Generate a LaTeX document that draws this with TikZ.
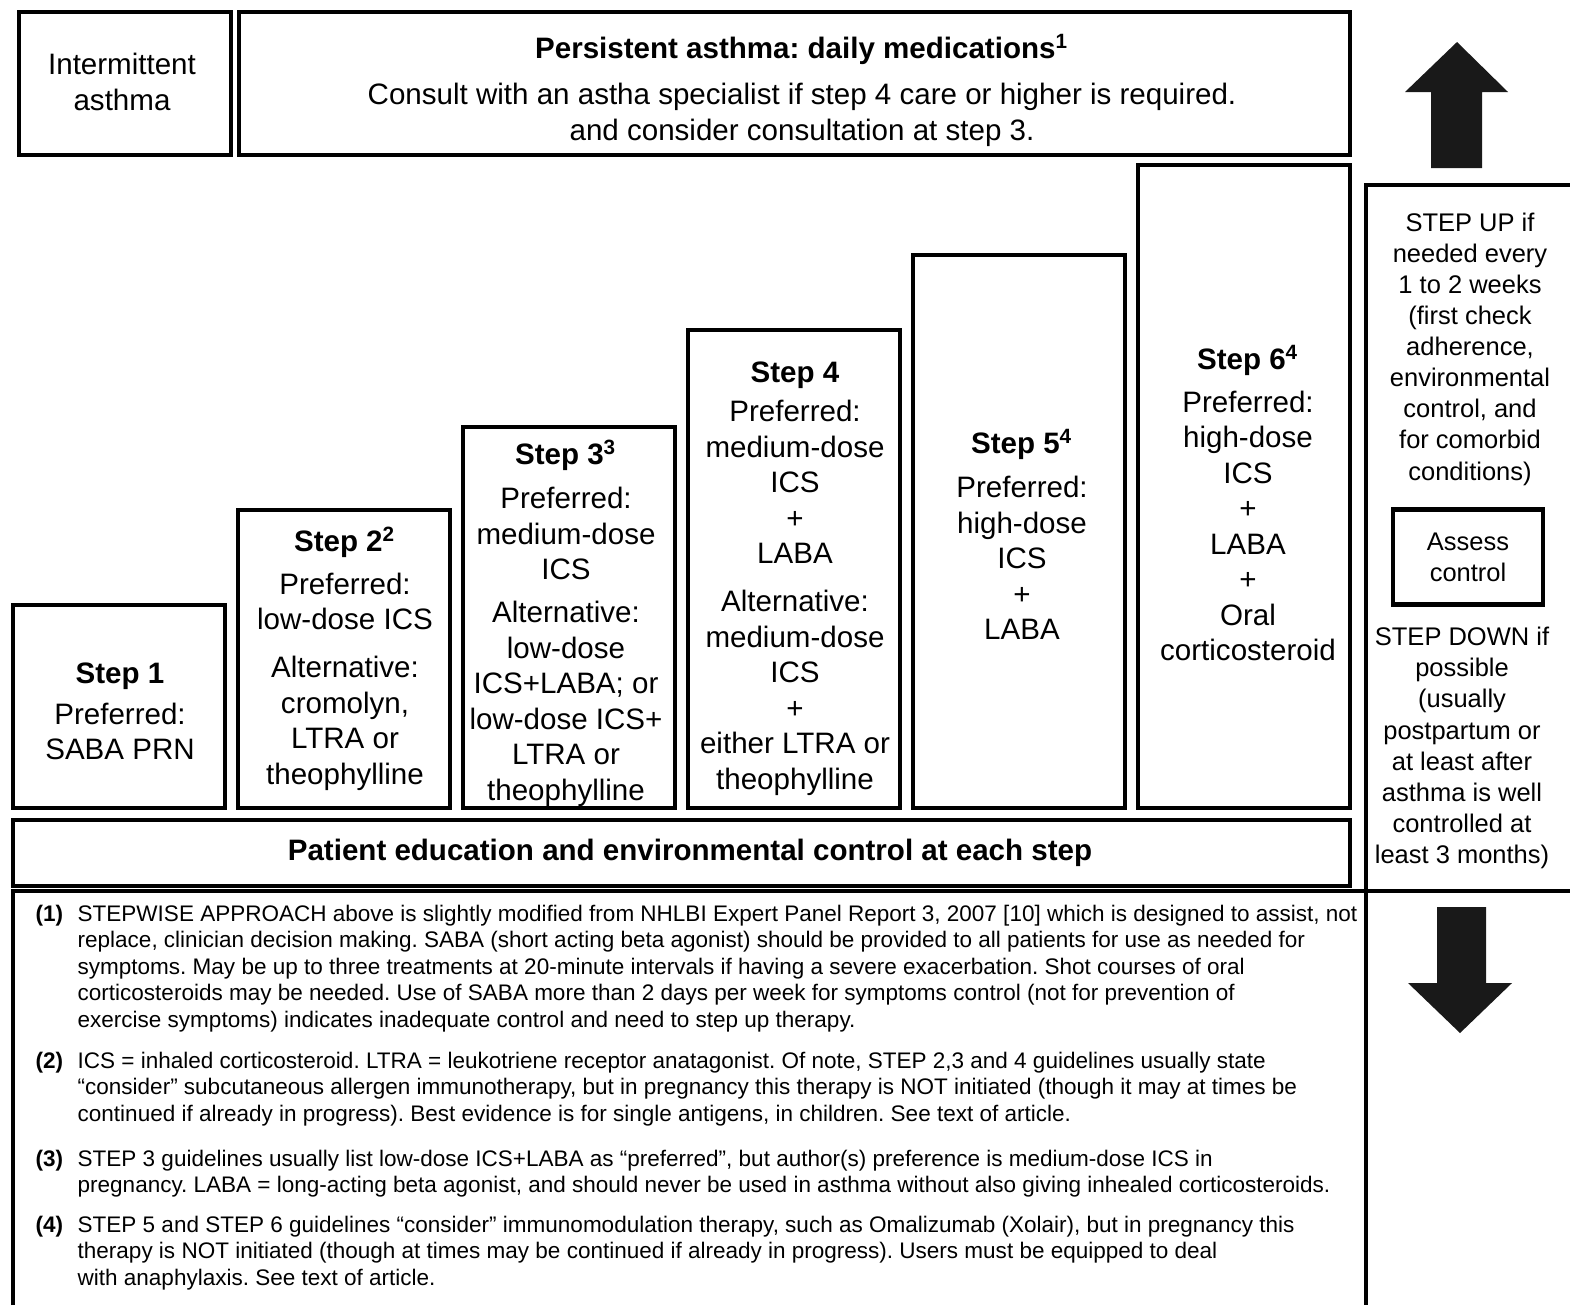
\documentclass[tikz,border=0pt]{standalone}
\usepackage{fontspec}
\setmainfont{Liberation Sans}
\frenchspacing
\usetikzlibrary{positioning}
\tikzset{
  box/.style={draw,very thick},
  steptxt/.style={anchor=north,align=center,inner sep=0pt,font=\fontsize{8.4}{10.1}\selectfont},
  sidetxt/.style={align=center,inner sep=0pt,font=\fontsize{7.25}{8.85}\selectfont},
  notetxt/.style={anchor=north west,align=left,inner sep=0pt,font=\fontsize{6.4}{7.55}\selectfont},
  bigarrow/.style={fill=black!90,draw=none}
}

\begin{document}
\begin{tikzpicture}[x=0.01cm,y=-0.01cm]
    \useasboundingbox (0,0) rectangle (1570,1305);
    % header
    \draw[box] (19,12) rectangle (231,155);
    \draw[box] (239,12) rectangle (1350,155);
    \node[align=center,inner sep=0pt,font=\fontsize{8.4}{10.2}\selectfont] (inter) at (122,82) {Intermittent\\asthma};
    \node[steptxt] (pers) at (802,33) {\strut\textbf{Persistent asthma: daily medications\textsuperscript{1}}\\[3pt]
      Consult with an astha specialist if step 4 care or higher is required.\\
      and consider consultation at step 3.};
    % steps
    \draw[box] (13,605) rectangle (225,808);
    \draw[box] (238,510) rectangle (450,808);
    \draw[box] (463,427) rectangle (675,808);
    \draw[box] (688,330) rectangle (900,808);
    \draw[box] (913,255) rectangle (1125,808);
    \draw[box] (1138,165) rectangle (1350,808);
    \node[steptxt] (st1) at (120,658) {\strut\textbf{Step 1}\\[1.5pt] Preferred:\\ SABA PRN};
    \node[steptxt] (st2) at (345,526) {\strut\textbf{Step 2\textsuperscript{2}}\\[2pt] Preferred:\\ low-dose ICS\\[3.5pt]
      Alternative:\\ cromolyn,\\ LTRA or\\ theophylline};
    \node[steptxt] (st3) at (566,439) {\strut\textbf{Step 3\textsuperscript{3}}\\[2.5pt] Preferred:\\ medium-dose\\ ICS\\[2pt]
      Alternative:\\ low-dose\\ ICS+LABA; or\\ low-dose ICS+\\ LTRA or\\ theophylline};
    \node[steptxt] (st4) at (795,357) {\strut\textbf{Step 4}\\[1pt] Preferred:\\ medium-dose\\ ICS\\ +\\ LABA\\[3.5pt]
      Alternative:\\ medium-dose\\ ICS\\ +\\ either LTRA or\\ theophylline};
    \node[steptxt] (st5) at (1022,428) {\strut\textbf{Step 5\textsuperscript{4}}\\[2.5pt] Preferred:\\ high-dose\\ ICS\\ +\\ LABA};
    \node[steptxt] (st6) at (1248,344) {\strut\textbf{Step 6\textsuperscript{4}}\\[2pt] Preferred:\\ high-dose\\ ICS\\ +\\ LABA\\ +\\ Oral\\ corticosteroid};
    % education bar
    \draw[box] (13,820) rectangle (1350,886);
    \node[font=\bfseries\fontsize{8.4}{10}\selectfont,inner sep=0pt] (edu) at (690,853) {Patient education and environmental control at each step};
    % right side panel
    \draw[very thick] (1570,185) -- (1366,185) -- (1366,1305);
    \draw[very thick] (13,1305) -- (13,891) -- (1570,891);
    \fill[bigarrow] (1457,42) -- (1508,92) -- (1482,92) -- (1482,168) -- (1431,168) -- (1431,92) -- (1405,92) -- cycle;
    \fill[bigarrow] (1460,1033) -- (1512,983) -- (1486,983) -- (1486,907) -- (1437,907) -- (1437,983) -- (1408,983) -- cycle;
    \node[sidetxt] (up) at (1470,349) {STEP UP if\\ needed every\\ 1 to 2 weeks\\ (first check\\ adherence,\\ environmental\\ control, and\\ for comorbid\\ conditions)};
    \node[box,sidetxt,minimum width=1.5cm,minimum height=0.95cm] (assess) at (1468,557) {Assess\\ control};
    \node[sidetxt] (down) at (1462,748) {STEP DOWN if\\ possible\\ (usually\\ postpartum or\\ at least after\\ asthma is well\\ controlled at\\ least 3 months)};
    % footnotes
    \node[notetxt] (n1) at (35,902) {\strut\textbf{(1)}};
    \node[notetxt] (f1) at (77,902) {\strut STEPWISE APPROACH above is slightly modified from NHLBI Expert Panel Report 3, 2007 [10] which is designed to assist, not\\
      replace, clinician decision making. SABA (short acting beta agonist) should be provided to all patients for use as needed for\\
      symptoms. May be up to three treatments at 20-minute intervals if having a severe exacerbation. Shot courses of oral\\
      corticosteroids may be needed. Use of SABA more than 2 days per week for symptoms control (not for prevention of\\
      exercise symptoms) indicates inadequate control and need to step up therapy.};
    \node[notetxt] (n2) at (35,1049) {\strut\textbf{(2)}};
    \node[notetxt] (f2) at (77,1049) {\strut ICS = inhaled corticosteroid. LTRA = leukotriene receptor anatagonist. Of note, STEP 2,3 and 4 guidelines usually state\\
      “consider” subcutaneous allergen immunotherapy, but in pregnancy this therapy is NOT initiated (though it may at times be\\
      continued if already in progress). Best evidence is for single antigens, in children. See text of article.};
    \node[notetxt] (n3) at (35,1147) {\strut\textbf{(3)}};
    \node[notetxt] (f3) at (77,1147) {\strut STEP 3 guidelines usually list low-dose ICS+LABA as “preferred”, but author(s) preference is medium-dose ICS in\\
      pregnancy. LABA = long-acting beta agonist, and should never be used in asthma without also giving inhealed corticosteroids.};
    \node[notetxt] (n4) at (35,1213) {\strut\textbf{(4)}};
    \node[notetxt] (f4) at (77,1213) {\strut STEP 5 and STEP 6 guidelines “consider” immunomodulation therapy, such as Omalizumab (Xolair), but in pregnancy this\\
      therapy is NOT initiated (though at times may be continued if already in progress). Users must be equipped to deal\\
      with anaphylaxis. See text of article.};
\end{tikzpicture}
\end{document}
